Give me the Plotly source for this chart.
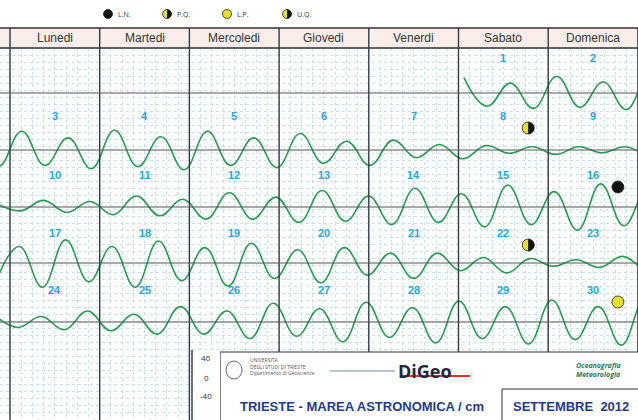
import plotly.graph_objects as go
import math

days = ["Lunedi", "Martedi", "Mercoledi", "Giovedi", "Venerdi", "Sabato", "Domenica"]
month_days = list(range(1, 31))
# tide extremes (cm) per day: high, low, high, low
extremes = [
    (28,-24,18,-28),(30,-26,20,-30),(34,-28,22,-34),(36,-30,24,-36),(34,-28,22,-32),
    (30,-24,16,-28),(18,-14,10,-16),(8,-6,6,-8),(6,-5,6,-7),(12,-10,10,-14),
    (20,-16,14,-22),(26,-22,18,-28),(30,-26,20,-32),(34,-28,24,-36),(40,-32,28,-42),
    (42,-34,30,-44),(42,-34,30,-44),(40,-32,28,-42),(36,-28,24,-36),(28,-22,18,-28),
    (18,-14,10,-18),(8,-6,6,-8),(12,-10,10,-14),(20,-16,14,-22),(28,-22,20,-30),
    (34,-26,24,-36),(36,-28,26,-38),(38,-30,28,-40),(40,-32,28,-42),(40,-32,28,-42),
    (40,-32,28,-42),
]
moons = [("L.N.", 16), ("P.Q.", 8), ("P.Q.", 22), ("L.P.", 30)]
scale_ticks = ["40", "0", "-40"]

W, H = 638, 420
X0, DW = 10, 89.7
row_center = [93, 150, 207, 263, 322]
row_label = [58, 116, 175, 233, 290]
START_COL = 5
CM = 0.55

def px(x):
    return (x - X0) / DW

vals = [v for e in extremes for v in e]
step = 12.42 / 2 / 24
t0 = 0.06

fig = go.Figure()
for r in range(5):
    xs, ys = [], []
    for k, v in enumerate(vals):
        xg = t0 + k * step + START_COL
        if 7 * r - 0.4 <= xg <= 7 * r + 7.4:
            if r == 0 and xg < START_COL:
                continue
            xs.append(xg - 7 * r)
            ys.append(row_center[r] - v * CM)
    fig.add_trace(go.Scatter(x=xs, y=ys, mode="lines", line=dict(color="#2a9a50", width=1.6, shape="spline", smoothing=1.2), hoverinfo="skip"))

shapes = []
shapes.append(dict(type="rect", xref="paper", yref="y", x0=0, x1=1, y0=0, y1=28, fillcolor="white", line_width=0, layer="above"))
shapes.append(dict(type="rect", xref="x", yref="y", x0=-0.2, x1=7.1, y0=28, y1=48, fillcolor="#fbeeea", line=dict(color="#333", width=1.5), layer="above"))
for i in range(8):
    shapes.append(dict(type="line", x0=i, x1=i, y0=28, y1=420, line=dict(color="#2f3b45", width=1.4)))
for c in row_center:
    shapes.append(dict(type="line", xref="paper", x0=0, x1=1, y0=c, y1=c, line=dict(color="#555", width=1)))

def circ(cx, cy, r, fill):
    shapes.append(dict(type="circle", xref="paper", yref="paper",
                       x0=(cx - r) / W, x1=(cx + r) / W, y0=1 - (cy + r) / H, y1=1 - (cy - r) / H,
                       fillcolor=fill, line=dict(color="#222", width=0.8), layer="above"))

def half(cx, cy, r):
    pts = []
    for i in range(21):
        a = -math.pi / 2 + math.pi * i / 20
        pts.append(((cx + r * math.cos(a)) / W, 1 - (cy - r * math.sin(a)) / H))
    p = "M " + " L ".join(f"{a:.5f},{b:.5f}" for a, b in pts) + " Z"
    shapes.append(dict(type="path", xref="paper", yref="paper", path=p, fillcolor="#111", line_width=0, layer="above"))

def moon(kind, cx, cy, r):
    if kind == "L.N.":
        circ(cx, cy, r, "#111")
    elif kind == "L.P.":
        circ(cx, cy, r, "#e8e030")
    else:
        circ(cx, cy, r, "#e8e030")
        half(cx, cy, r)

ann = []
legend_x = [108, 167, 227, 287]
for (kind, lx) in zip(["L.N.", "P.Q.", "L.P.", "U.Q."], legend_x):
    moon(kind, lx, 14, 4.5)
    ann.append(dict(x=px(lx + 8), y=14, text=kind, showarrow=False, xanchor="left", font=dict(size=7, color="#333")))

for kind, d in moons:
    col = (d - 1 + START_COL) % 7
    row = (d - 1 + START_COL) // 7
    moon(kind, X0 + DW * (col + 1) - 20, row_label[row] + 12, 6)

for i, dname in enumerate(days):
    ann.append(dict(x=i + 0.5, y=38, text=dname, showarrow=False, font=dict(size=12, color="#333", family="Arial")))
for d in month_days:
    col = (d - 1 + START_COL) % 7
    row = (d - 1 + START_COL) // 7
    ann.append(dict(x=col + 0.5, y=row_label[row], text="<b>%d</b>" % d, showarrow=False, font=dict(size=11, color="#2aa6de", family="Arial")))

shapes.append(dict(type="rect", x0=px(220), x1=7.2, y0=352, y1=425, fillcolor="white", line=dict(color="#333", width=1.2), layer="above"))
shapes.append(dict(type="rect", x0=px(193), x1=px(220), y0=350, y1=425, fillcolor="white", line_width=0, layer="above"))
shapes.append(dict(type="rect", x0=px(502), x1=7.2, y0=389, y1=425, fillcolor="white", line=dict(color="#333", width=1), layer="above"))
shapes.append(dict(type="line", x0=px(192), x1=px(192), y0=350, y1=420, line=dict(color="#2f3b45", width=1.4), layer="above"))
shapes.append(dict(type="circle", x0=px(226), x1=px(242), y0=361, y1=379, line=dict(color="#667", width=1), layer="above"))
for t, y in zip(scale_ticks, [357, 377, 395]):
    ann.append(dict(x=px(206), y=y, text=t, showarrow=False, font=dict(size=8, color="#333")))
ann += [
    dict(x=px(248), y=366, text="UNIVERSITÀ<br>DEGLI STUDI DI TRIESTE<br>Dipartimento di Geoscienze", showarrow=False, xanchor="left", align="left", font=dict(size=5, color="#556")),
    dict(x=px(425), y=371, text="<b>DiGeo</b>", showarrow=False, font=dict(size=18, color="#1a2a40")),
    dict(x=px(598), y=370, text="<i><b>Oceanografia<br>Meteorologia</b></i>", showarrow=False, align="left", font=dict(size=7, color="#2a7a5a")),
    dict(x=px(362), y=406, text="<b>TRIESTE - MAREA ASTRONOMICA / cm</b>", showarrow=False, font=dict(size=13, color="#1f3c8c", family="Arial")),
    dict(x=px(571), y=406, text="<b>SETTEMBRE  2012</b>", showarrow=False, font=dict(size=13, color="#1f3c8c", family="Arial")),
]
shapes.append(dict(type="line", x0=px(330), x1=px(395), y0=371, y1=371, line=dict(color="#7a8aa0", width=1), layer="above"))
shapes.append(dict(type="line", x0=px(400), x1=px(470), y0=376, y1=376, line=dict(color="#e03030", width=2), layer="above"))

fig.update_layout(
    width=W, height=H, margin=dict(l=0, r=0, t=0, b=0),
    plot_bgcolor="white", paper_bgcolor="white", showlegend=False,
    shapes=shapes, annotations=ann,
    xaxis=dict(range=[-X0 / DW, (W - X0) / DW], dtick=0.125, tick0=0, showgrid=True,
               gridcolor="#c4e2f2", griddash="dot", gridwidth=1, zeroline=False, showticklabels=False),
    yaxis=dict(range=[H, 0], dtick=7, tick0=48, showgrid=True, gridcolor="#c4e2f2",
               griddash="dot", gridwidth=1, zeroline=False, showticklabels=False),
)
fig.write_html("out.html", config={"displayModeBar": False},
               post_script="document.body.style.margin='0';document.body.style.overflow='hidden';")
